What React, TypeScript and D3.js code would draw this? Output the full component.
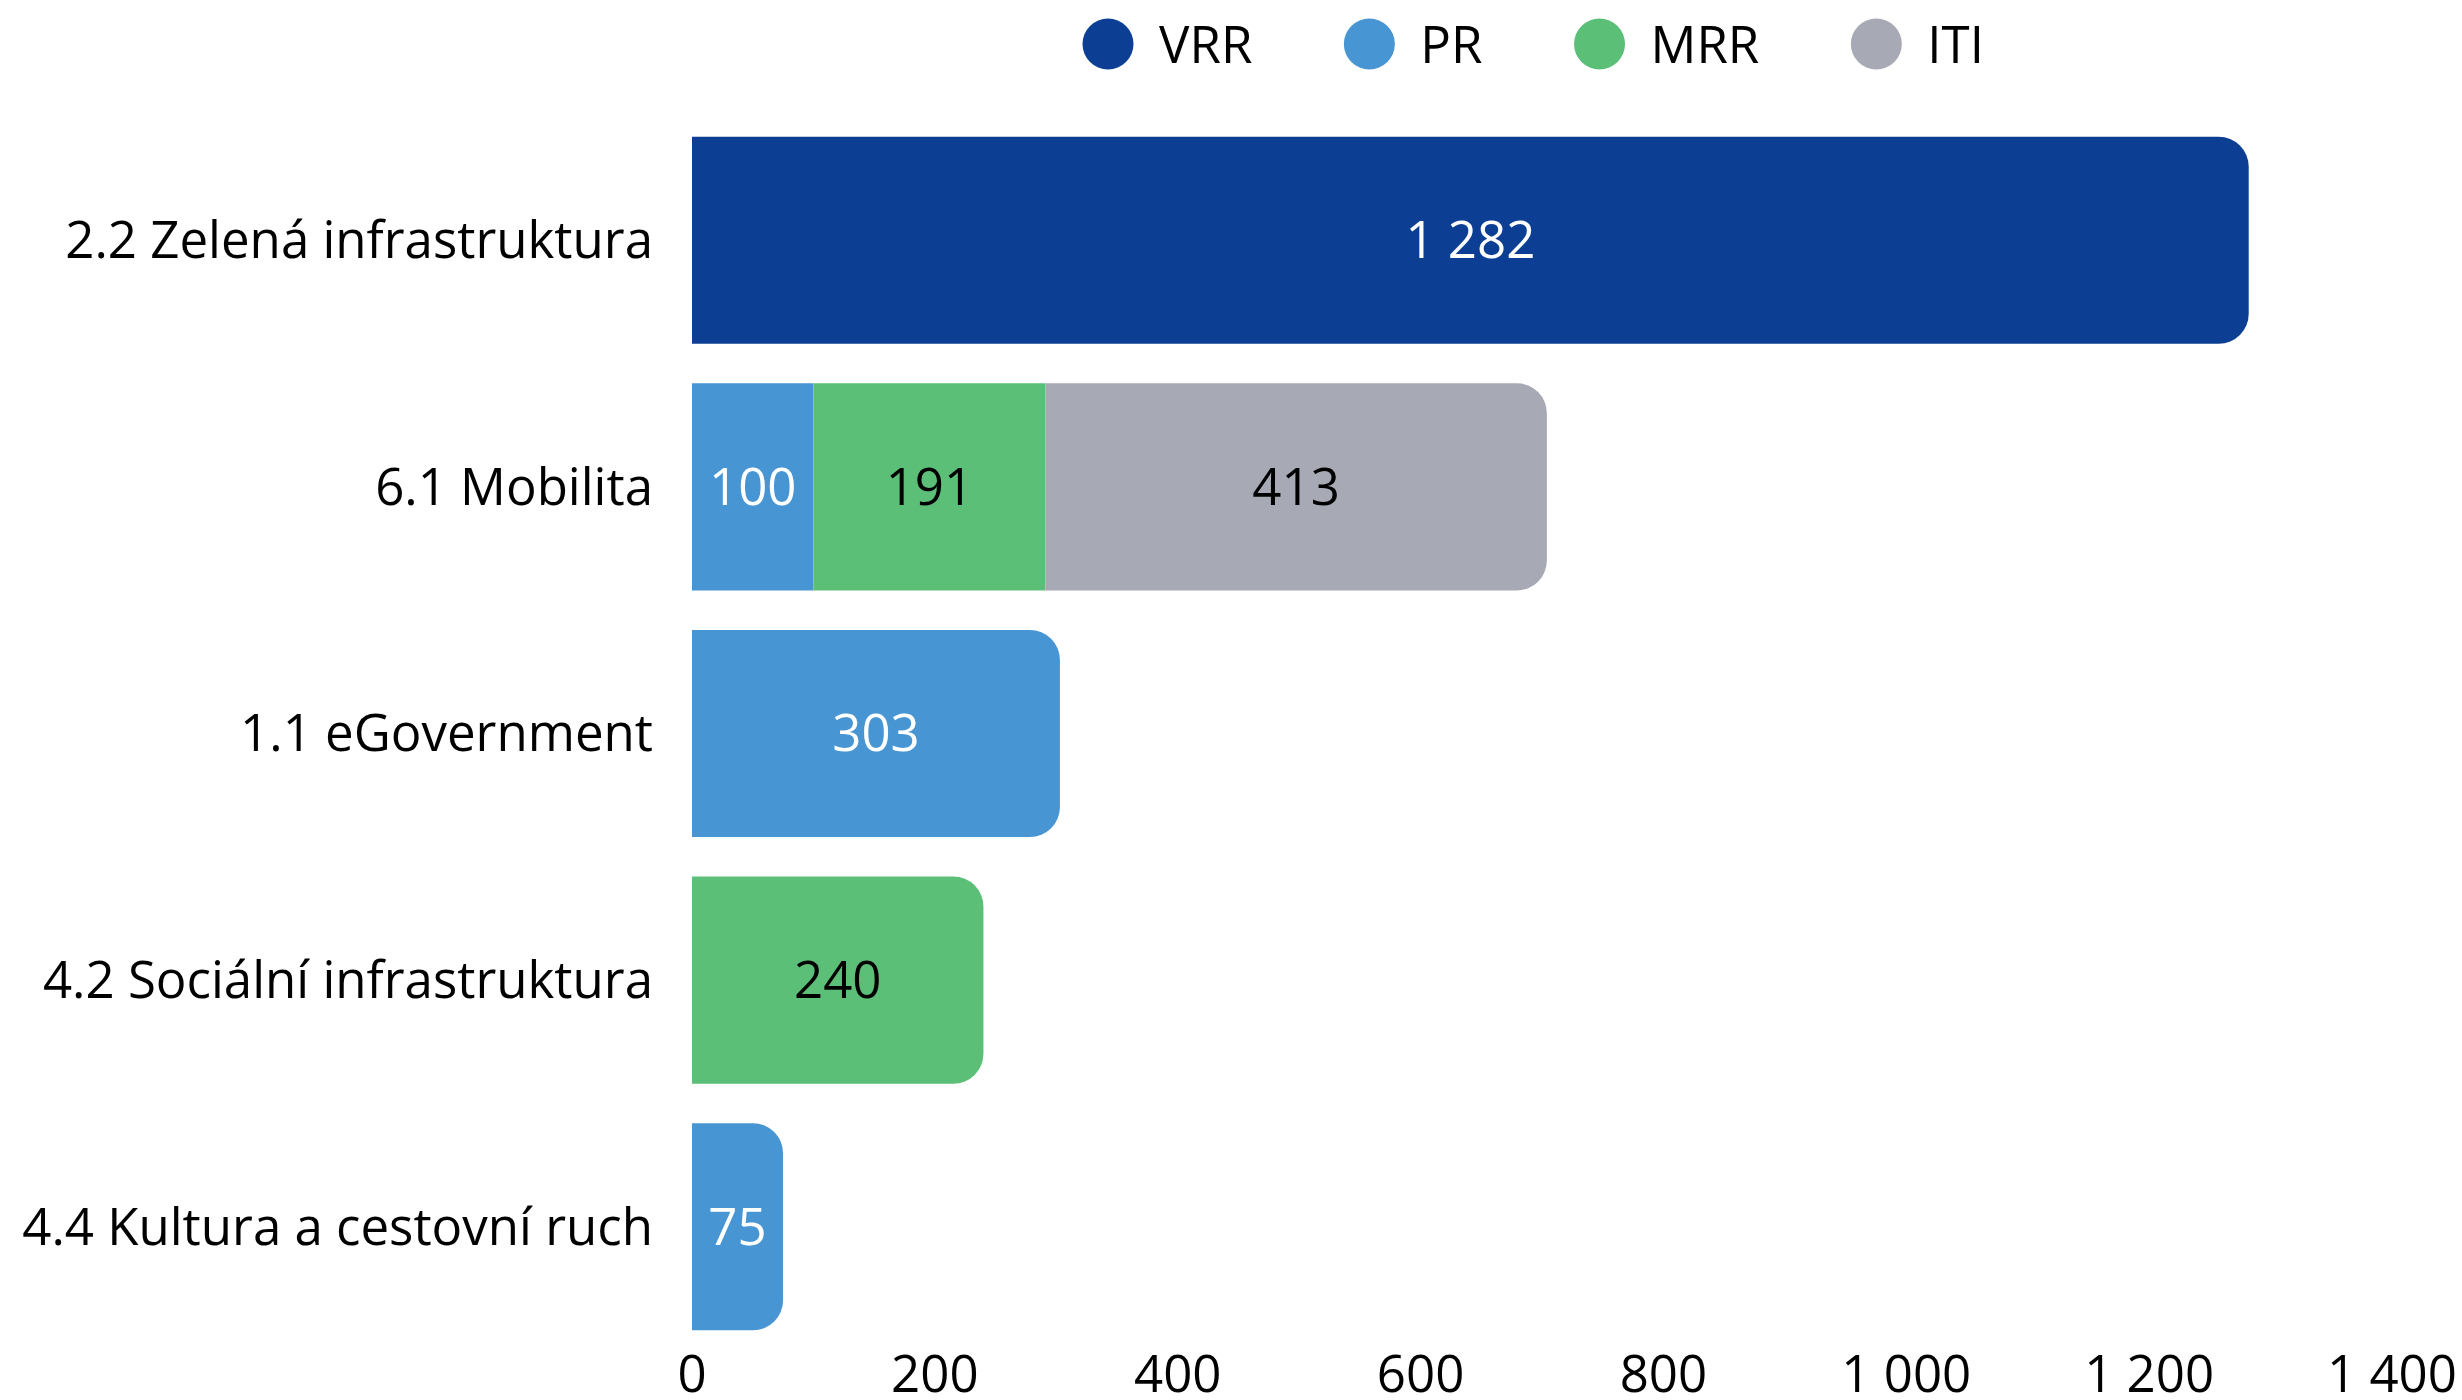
import React, { useEffect, useRef } from "react";
import * as d3 from "d3";

const categories = [
  "2.2 Zelená infrastruktura",
  "6.1 Mobilita",
  "1.1 eGovernment",
  "4.2 Sociální infrastruktura",
  "4.4 Kultura a cestovní ruch",
];
const seriesNames = ["VRR", "PR", "MRR", "ITI"];
const VRR = [1282, 0, 0, 0, 0];
const PR = [0, 100, 303, 0, 75];
const MRR = [0, 191, 0, 240, 0];
const ITI = [0, 413, 0, 0, 0];
const seriesColors = ["#0c3f94", "#4895d4", "#5cbf77", "#a7a9b4"];
const labelColors = ["#ffffff", "#ffffff", "#000000", "#000000"];
const xTicks = [0, 200, 400, 600, 800, 1000, 1200, 1400];

const W = 2462;
const H = 1400;
const FONT = "'Open Sans', 'Noto Sans', sans-serif";
const FS = 51;

const fmt = (v: number) => d3.format(",")(v).replace(/,/g, " ");

export default function App() {
  const ref = useRef<SVGSVGElement | null>(null);

  useEffect(() => {
    const svg = d3.select(ref.current);
    svg.selectAll("*").remove();

    const x = d3.scaleLinear().domain([0, 1400]).range([692, 2392]);
    const y = d3
      .scaleBand<string>()
      .domain(categories)
      .range([117, 1350])
      .paddingInner(0.16)
      .paddingOuter(0.08);

    const seriesData = [VRR, PR, MRR, ITI];
    const rows = categories.map((c, i) => {
      const o: any = { cat: c };
      seriesNames.forEach((s, k) => (o[s] = seriesData[k][i]));
      return o;
    });
    const stacked = d3.stack<any>().keys(seriesNames)(rows);

    const r = 30;
    const bh = y.bandwidth();

    const lastKey: Record<string, number> = {};
    categories.forEach((c, i) => {
      let last = -1;
      seriesNames.forEach((s, k) => {
        if (seriesData[k][i] > 0) last = k;
      });
      lastKey[c] = last;
    });

    const g = svg.append("g");
    stacked.forEach((layer, k) => {
      layer.forEach((d: any) => {
        const cat = d.data.cat;
        const v = d[1] - d[0];
        if (v <= 0) return;
        const x0 = x(d[0]);
        const x1 = x(d[1]);
        const y0 = y(cat)!;
        const y1 = y0 + bh;
        let path: string;
        if (lastKey[cat] === k) {
          const rr = Math.min(r, x1 - x0);
          path = `M${x0},${y0} H${x1 - rr} A${rr},${rr} 0 0 1 ${x1},${y0 + rr} V${y1 - rr} A${rr},${rr} 0 0 1 ${x1 - rr},${y1} H${x0} Z`;
        } else {
          path = `M${x0},${y0} H${x1} V${y1} H${x0} Z`;
        }
        g.append("path").attr("d", path).attr("fill", seriesColors[k]);
        g.append("text")
          .attr("x", (x0 + x1) / 2)
          .attr("y", y0 + bh / 2)
          .attr("dy", "0.35em")
          .attr("text-anchor", "middle")
          .attr("font-family", FONT)
          .attr("font-size", FS)
          .attr("fill", labelColors[k])
          .text(fmt(v));
      });
    });

    svg
      .append("g")
      .selectAll("text")
      .data(categories)
      .join("text")
      .attr("x", 653)
      .attr("y", (d) => y(d)! + bh / 2)
      .attr("dy", "0.35em")
      .attr("text-anchor", "end")
      .attr("font-family", FONT)
      .attr("font-size", FS)
      .attr("fill", "#000")
      .text((d) => d);

    svg
      .append("g")
      .selectAll("text")
      .data(xTicks)
      .join("text")
      .attr("x", (d) => x(d))
      .attr("y", 1392)
      .attr("text-anchor", "middle")
      .attr("font-family", FONT)
      .attr("font-size", FS)
      .attr("fill", "#000")
      .text((d) => fmt(d));

    const leg = svg.append("g");
    const items: { g: any; w: number }[] = [];
    seriesNames.forEach((s, k) => {
      const it = leg.append("g");
      it.append("circle").attr("cx", 25).attr("cy", 44).attr("r", 25.5).attr("fill", seriesColors[k]);
      const t = it
        .append("text")
        .attr("x", 76)
        .attr("y", 63)
        .attr("font-family", FONT)
        .attr("font-size", FS)
        .attr("fill", "#000")
        .text(s);
      const tw = (t.node() as SVGTextElement).getComputedTextLength();
      items.push({ g: it, w: 76 + tw });
    });
    const gap = 92;
    let cx = 1083;
    items.forEach((it) => {
      it.g.attr("transform", `translate(${cx},0)`);
      cx += it.w + gap;
    });
  }, []);

  return (
    <svg
      ref={ref}
      width={W}
      height={H}
      style={{ position: "absolute", left: 0, top: 0, background: "#fff" }}
    />
  );
}
